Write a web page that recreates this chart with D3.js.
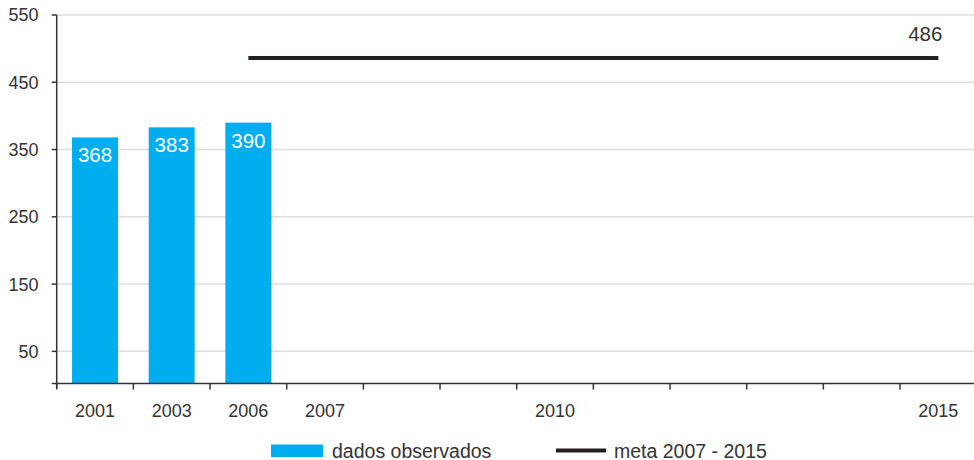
<!DOCTYPE html>
<html>
<head>
<meta charset="utf-8">
<script src="https://cdn.jsdelivr.net/npm/d3@7"></script>
<style>
  html, body { margin: 0; padding: 0; background: #fff; }
  svg { display: block; font-family: "Liberation Sans", Arial, sans-serif; }
</style>
</head>
<body>
<svg id="chart" width="974" height="460"></svg>
<script>
// ---- data ----
const categories = ["2001","2003","2006","2007","2008","2009","2010","2011","2012","2013","2014","2015"];
const xTickLabels = ["2001","2003","2006","2007","2010","2015"];
const observedYears = ["2001","2003","2006"];
const observedValues = [368, 383, 390];
const metaYears = ["2006","2015"];
const metaValues = [486, 486];
const metaLabel = "486";
const yTicks = [50, 150, 250, 350, 450, 550];
const legendLabels = ["dados observados", "meta 2007 - 2015"];

// ---- layout ----
const svg = d3.select("#chart");
const W = 974;
const plotLeft = 56.7, plotRight = 976.7, plotBottom = 385, plotTop = 15;
const axisY = 383.5;
const blue = "#00aeef", dark = "#231f20", textCol = "#333333";

const x = d3.scaleBand().domain(categories).range([plotLeft, plotRight])
  .paddingInner(0.4).paddingOuter(0.2);
const y = d3.scaleLinear().domain([0, 550]).range([plotBottom, plotTop]);

// gridlines
svg.append("g").selectAll("line").data(yTicks).join("line")
  .attr("x1", plotLeft).attr("x2", W)
  .attr("y1", d => y(d)).attr("y2", d => y(d))
  .attr("stroke", "#dddddd").attr("stroke-width", 1.5);

// bars
const obs = observedYears.map((c, i) => ({c, v: observedValues[i]}));
svg.append("g").selectAll("rect").data(obs).join("rect")
  .attr("x", d => x(d.c)).attr("width", x.bandwidth())
  .attr("y", d => y(d.v)).attr("height", d => axisY - y(d.v))
  .attr("fill", blue);

svg.append("g").selectAll("text").data(obs).join("text")
  .attr("x", d => x(d.c) + x.bandwidth() / 2)
  .attr("y", d => y(d.v) + 25)
  .attr("text-anchor", "middle")
  .attr("fill", "#fff").attr("font-size", 20.5)
  .text(d => d.v);

// meta line
const meta = metaYears.map((c, i) => ({c, v: metaValues[i]}));
const line = d3.line().x(d => x(d.c) + x.bandwidth() / 2).y(d => y(d.v));
svg.append("path").datum(meta).attr("d", line)
  .attr("fill", "none").attr("stroke", dark).attr("stroke-width", 4);
const last = meta[meta.length - 1];
svg.append("text")
  .attr("x", x(last.c) + x.bandwidth() / 2 + 4)
  .attr("y", y(last.v) - 17)
  .attr("text-anchor", "end")
  .attr("fill", textCol).attr("font-size", 20.5)
  .text(metaLabel);

// y axis
const yAxis = svg.append("g");
yAxis.append("line").attr("x1", plotLeft).attr("x2", plotLeft)
  .attr("y1", y(550)).attr("y2", axisY + 5)
  .attr("stroke", textCol).attr("stroke-width", 1.5);
yAxis.selectAll("line.tick").data(yTicks).join("line").attr("class", "tick")
  .attr("x1", plotLeft - 5).attr("x2", plotLeft)
  .attr("y1", d => y(d)).attr("y2", d => y(d))
  .attr("stroke", textCol).attr("stroke-width", 1.5);
yAxis.selectAll("text").data(yTicks).join("text")
  .attr("x", 38.5).attr("y", d => y(d)).attr("dy", "0.36em")
  .attr("text-anchor", "end").attr("fill", textCol).attr("font-size", 18)
  .text(d => d);

// x axis
const xAxis = svg.append("g");
xAxis.append("line").attr("x1", plotLeft - 5).attr("x2", W)
  .attr("y1", axisY).attr("y2", axisY)
  .attr("stroke", textCol).attr("stroke-width", 1.5);
const step = x.step();
xAxis.selectAll("line.tick").data(categories).join("line").attr("class", "tick")
  .attr("x1", d => x(d) - step * 0.2).attr("x2", d => x(d) - step * 0.2)
  .attr("y1", axisY).attr("y2", axisY + 6)
  .attr("stroke", textCol).attr("stroke-width", 1.5);
xAxis.selectAll("text").data(xTickLabels).join("text")
  .attr("x", d => x(d) + x.bandwidth() / 2).attr("y", 416.5)
  .attr("text-anchor", "middle").attr("fill", textCol).attr("font-size", 18)
  .text(d => d);

// legend
const lg = svg.append("g");
lg.append("rect").attr("x", 271).attr("y", 444.5).attr("width", 52).attr("height", 12.5)
  .attr("fill", blue);
lg.append("text").attr("x", 332).attr("y", 457.5).attr("fill", textCol).attr("font-size", 19.5)
  .text(legendLabels[0]);
lg.append("line").attr("x1", 556).attr("x2", 606).attr("y1", 450.5).attr("y2", 450.5)
  .attr("stroke", dark).attr("stroke-width", 4);
lg.append("text").attr("x", 614).attr("y", 457.5).attr("fill", textCol).attr("font-size", 19.5)
  .text(legendLabels[1]);
</script>
</body>
</html>
